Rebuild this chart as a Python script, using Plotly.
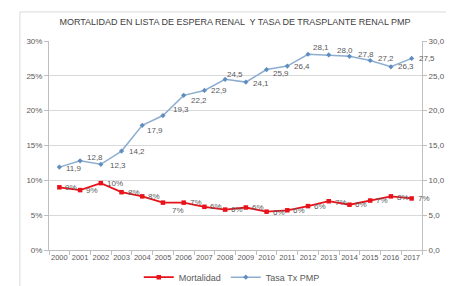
import plotly.graph_objects as go

years = [str(y) for y in range(2000, 2018)]
mortalidad = [0.090, 0.086, 0.096, 0.083, 0.077, 0.068, 0.068, 0.062, 0.058,
              0.061, 0.055, 0.057, 0.063, 0.070, 0.065, 0.071, 0.077, 0.074]
tasa = [11.9, 12.8, 12.3, 14.2, 17.9, 19.3, 22.2, 22.9, 24.5,
        24.1, 25.9, 26.4, 28.1, 28.0, 27.8, 27.2, 26.3, 27.5]

# label offsets (pixels) relative to each point
mort_dx = [4, 4, 4, 4, 4, 7, 4, 4, 4, 4, 4, 4, 4, 4, 4, 4, 4, 4]
mort_dy = [0, 0, 0, 0, 0, -8, 0, 0, 0, 0, -1, 0, 0, -1, 0, 0, -1, 0]
tasa_dx = [5, 5, 7, 5, 3, 8, 5, 5, 0, 5, 4, 5, 3, 6, 7, 6, 5, 5]
tasa_dy = [-1, 3, -1, 0, -5, 6, -5, 0, 5, -1, -4, 0, 7, 4, 2, 2, 0, 0]

FONT = "Liberation Sans"
TXT = "#595959"

fig = go.Figure()
fig.add_trace(go.Scatter(
    x=years, y=mortalidad, name="Mortalidad", mode="lines+markers",
    line=dict(color="#E8121A", width=1.8),
    marker=dict(symbol="square", size=4.5, color="#E8121A"),
    yaxis="y"))
fig.add_trace(go.Scatter(
    x=years, y=tasa, name="Tasa Tx PMP", mode="lines+markers",
    line=dict(color="#8DAED1", width=1.5),
    marker=dict(symbol="diamond", size=4, color="#5F8DBF"),
    yaxis="y2"))

annotations = []
for i, (v, dx, dy) in enumerate(zip(mortalidad, mort_dx, mort_dy)):
    annotations.append(dict(x=i, y=v, xref="x", yref="y", text=f"{round(v*100):d}%",
                            showarrow=False, xanchor="left", yanchor="middle",
                            xshift=dx, yshift=dy,
                            font=dict(family=FONT, size=8, color=TXT)))
for i, (v, dx, dy) in enumerate(zip(tasa, tasa_dx, tasa_dy)):
    annotations.append(dict(x=i, y=v, xref="x", yref="y2", text=f"{v:.1f}".replace(".", ","),
                            showarrow=False, xanchor="left", yanchor="middle",
                            xshift=dx, yshift=dy,
                            font=dict(family=FONT, size=8, color=TXT)))

fig.update_layout(
    width=454, height=286,
    margin=dict(l=41, r=40, t=33, b=44, autoexpand=False),
    paper_bgcolor="white", plot_bgcolor="white",
    separators=",.",
    font=dict(family=FONT, size=8, color=TXT),
    title=dict(text="MORTALIDAD EN LISTA DE ESPERA RENAL  Y TASA DE TRASPLANTE RENAL PMP",
               x=0.5, xanchor="center", y=0.95, yanchor="middle",
               font=dict(family=FONT, size=9, color="#404040")),
    xaxis=dict(type="category", categoryorder="array", categoryarray=years,
               range=[-0.5, len(years) - 0.5],
               showgrid=False, showline=True, linecolor="#BFBFBF",
               ticks="outside", tickson="boundaries", ticklen=4, tickcolor="#BFBFBF",
               tickangle=0, automargin=False,
               tickfont=dict(size=7.5, color=TXT)),
    yaxis=dict(range=[0, 0.30], dtick=0.05, tickformat=".0%", showgrid=True,
               gridcolor="#D9D9D9", showline=True, linecolor="#BFBFBF",
               ticks="outside", ticklen=4, tickcolor="#BFBFBF", zeroline=False,
               automargin=False, tickfont=dict(size=8, color=TXT)),
    yaxis2=dict(range=[0, 30], dtick=5, tickformat=".1f", overlaying="y", side="right",
                showgrid=False, showline=True, linecolor="#BFBFBF",
                ticks="outside", ticklen=4, tickcolor="#BFBFBF", zeroline=False,
                automargin=False, tickfont=dict(size=8, color=TXT)),
    legend=dict(orientation="h", x=0.49, xanchor="center", y=-0.13, yanchor="middle",
                bgcolor="rgba(0,0,0,0)",
                font=dict(size=9, color=TXT), itemwidth=30),
    annotations=annotations,
    shapes=[dict(type="rect", xref="paper", yref="paper",
                 x0=-0.078, x1=1.072, y0=-0.196, y1=1.139,
                 line=dict(color="#D9D9D9", width=1))],
)

fig.write_html("out.html")
